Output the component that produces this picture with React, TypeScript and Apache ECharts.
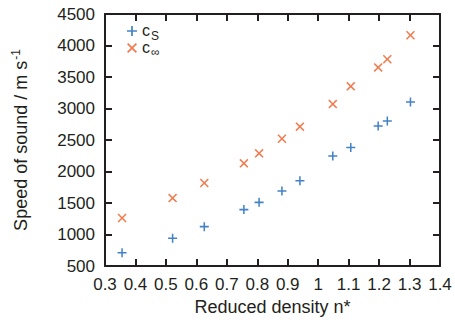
import React, { useEffect, useRef } from "react";
import * as echarts from "echarts";

const densities = [0.356, 0.522, 0.626, 0.756, 0.806, 0.881, 0.94, 1.048, 1.107, 1.197, 1.227, 1.303];
const cS = [710, 940, 1125, 1395, 1510, 1692, 1853, 2245, 2380, 2722, 2803, 3103];
const cInf = [1262, 1578, 1817, 2130, 2288, 2520, 2712, 3070, 3352, 3652, 3782, 4163];
const legendSymbols = ["c", "c"];
const legendSubs = ["S", "∞"];

const BLUE = "#1463b8";
const ORANGE = "#ee5a22";
const AXIS = "#231f20";
const FONT = "'Liberation Sans', Arial, Helvetica, sans-serif";

const PLUS = "path://M4.15,0H5.85V10H4.15Z M0,4.15H10V5.85H0Z";
const CROSS = "path://M0,1.2L1.2,0L5,3.8L8.8,0L10,1.2L6.2,5L10,8.8L8.8,10L5,6.2L1.2,10L0,8.8L3.8,5Z";

export default function App() {
  const ref = useRef<HTMLDivElement>(null);
  useEffect(() => {
    if (!ref.current) return;
    const chart = echarts.init(ref.current, null, { renderer: "svg" });
    const axisCommon = {
      axisLine: { show: true, lineStyle: { color: AXIS, width: 2 } },
      axisTick: { show: true, inside: true, length: 7, lineStyle: { color: AXIS, width: 2 } },
      splitLine: { show: false },
    };
    const legendRows = [0, 1];
    const graphics: any[] = [];
    legendRows.forEach((i) => {
      graphics.push({
        type: "text",
        x: 142,
        y: 30 + i * 17,
        style: {
          text: legendSymbols[i],
          fill: AXIS,
          font: `16px ${FONT}`,
          align: "left",
          verticalAlign: "middle",
        },
      });
      graphics.push({
        type: "text",
        x: 151,
        y: 36 + i * 16,
        style: {
          text: legendSubs[i],
          fill: AXIS,
          font: `12px ${FONT}`,
          align: "left",
          verticalAlign: "middle",
        },
      });
    });
    chart.setOption({
      animation: false,
      textStyle: { fontFamily: FONT },
      grid: { left: 105, top: 14, right: 15, bottom: 56 },
      legend: [
        {
          left: 127,
          top: 26,
          padding: 0,
          itemWidth: 10,
          itemHeight: 10,
          data: ["cs"],
          formatter: () => "",
        },
        {
          left: 127,
          top: 43,
          padding: 0,
          itemWidth: 10,
          itemHeight: 10,
          data: ["cinf"],
          formatter: () => "",
        },
      ],
      graphic: graphics,
      xAxis: [
        {
          type: "value",
          min: 0.3,
          max: 1.4,
          interval: 0.1,
          position: "bottom",
          ...axisCommon,
          axisLabel: {
            color: AXIS,
            fontSize: 17,
            fontFamily: FONT,
            margin: 10,
            formatter: (v: number) => String(Math.round(v * 10) / 10),
          },
          name: "Reduced density n*",
          nameLocation: "middle",
          nameGap: 32,
          nameTextStyle: { color: AXIS, fontSize: 18, fontFamily: FONT },
        },
        {
          type: "value",
          min: 0.3,
          max: 1.4,
          interval: 0.1,
          position: "top",
          ...axisCommon,
          axisLabel: { show: false },
        },
      ],
      yAxis: [
        {
          type: "value",
          min: 500,
          max: 4500,
          interval: 500,
          position: "left",
          ...axisCommon,
          axisLabel: {
            color: AXIS,
            fontSize: 17,
            fontFamily: FONT,
            margin: 10,
            formatter: (v: number) => String(v),
          },
          name: "{a|Speed of sound / m s}{sup|-1}",
          nameLocation: "middle",
          nameGap: 74,
          nameTextStyle: {
            color: AXIS,
            fontFamily: FONT,
            rich: {
              a: { fontSize: 18, color: AXIS, fontFamily: FONT },
              sup: { fontSize: 12, color: AXIS, fontFamily: FONT, padding: [0, 0, 9, 1] },
            },
          },
        },
        {
          type: "value",
          min: 500,
          max: 4500,
          interval: 500,
          position: "right",
          ...axisCommon,
          axisLabel: { show: false },
        },
      ],
      series: [
        {
          name: "cs",
          type: "scatter",
          symbol: PLUS,
          symbolSize: 9,
          itemStyle: { color: BLUE },
          data: densities.map((d, i) => [d, cS[i]]),
        },
        {
          name: "cinf",
          type: "scatter",
          symbol: CROSS,
          symbolSize: 9,
          itemStyle: { color: ORANGE },
          data: densities.map((d, i) => [d, cInf[i]]),
        },
      ],
    });
    return () => chart.dispose();
  }, []);
  return <div ref={ref} style={{ width: 455, height: 322, position: "absolute", left: 0, top: 0 }} />;
}
